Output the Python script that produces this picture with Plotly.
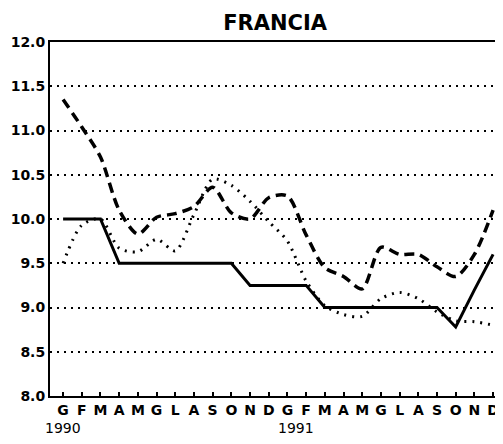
import plotly.graph_objects as go

# Month initials (Italian), two years
months = ["G", "F", "M", "A", "M", "G", "L", "A", "S", "O", "N", "D",
          "G", "F", "M", "A", "M", "G", "L", "A", "S", "O", "N", "D"]
years = ["1990", "1991"]
year_pos = [0, 12.45]

# Series values
solid = [10.0, 10.0, 10.0, 9.5, 9.5, 9.5, 9.5, 9.5, 9.5, 9.5, 9.25, 9.25,
         9.25, 9.25, 9.0, 9.0, 9.0, 9.0, 9.0, 9.0, 9.0, 8.78, 9.2, 9.6]
dashed = [11.35, 11.04, 10.7, 10.1, 9.83, 10.02, 10.06, 10.14, 10.36, 10.07, 10.0, 10.24,
          10.26, 9.82, 9.45, 9.35, 9.21, 9.68, 9.6, 9.6, 9.46, 9.35, 9.6, 10.1]
dotted = [9.5, 9.93, 10.0, 9.67, 9.63, 9.77, 9.64, 10.05, 10.45, 10.38, 10.2, 9.97,
          9.75, 9.3, 9.02, 8.92, 8.9, 9.1, 9.17, 9.1, 8.95, 8.85, 8.84, 8.8]

x = list(range(len(months)))

fig = go.Figure()
fig.add_trace(go.Scatter(x=x, y=dotted, mode="lines",
                         line=dict(color="black", width=3, dash="2px,6px",
                                   shape="spline", smoothing=0.8),
                         showlegend=False))
fig.add_trace(go.Scatter(x=x, y=dashed, mode="lines",
                         line=dict(color="black", width=3.5, dash="10px,6px",
                                   shape="spline", smoothing=0.8),
                         showlegend=False))
fig.add_trace(go.Scatter(x=x, y=solid, mode="lines",
                         line=dict(color="black", width=3),
                         showlegend=False))

for yr, xp in zip(years, year_pos):
    fig.add_annotation(x=xp, y=0, xref="x", yref="paper", text=yr,
                       showarrow=False, yanchor="middle", yshift=-32,
                       font=dict(family="DejaVu Sans", size=14, color="black"))

# The page body has an 8px margin; size the figure to fit the 503x444 window.
fig.update_layout(
    width=495, height=436,
    margin=dict(l=42, r=0, t=34, b=48, autoexpand=False),
    paper_bgcolor="white", plot_bgcolor="white",
    title=dict(text="<b>FRANCIA</b>", x=0.497, xanchor="center", xref="paper",
               y=1 - 15 / 436, yanchor="middle", yref="container",
               font=dict(family="DejaVu Sans", size=21, color="black")),
    xaxis=dict(range=[-0.7, 23.53], tickmode="array", tickvals=x, ticktext=months,
               ticks="inside", ticklen=4, tickwidth=1.5, tickcolor="black",
               showline=True, linecolor="black", linewidth=2, mirror=True,
               showgrid=False, zeroline=False, automargin=False,
               tickfont=dict(family="DejaVu Sans", size=14, color="black", weight="bold")),
    yaxis=dict(range=[8, 12], dtick=0.5, tick0=8, tickformat=".1f",
               showline=True, linecolor="black", linewidth=2, mirror=False,
               showgrid=True, gridcolor="black", gridwidth=1.5, griddash="2px,5px",
               zeroline=False, ticks="", automargin=False,
               tickfont=dict(family="DejaVu Sans", size=14, color="black", weight="bold")),
)

fig.write_html("out.html")
